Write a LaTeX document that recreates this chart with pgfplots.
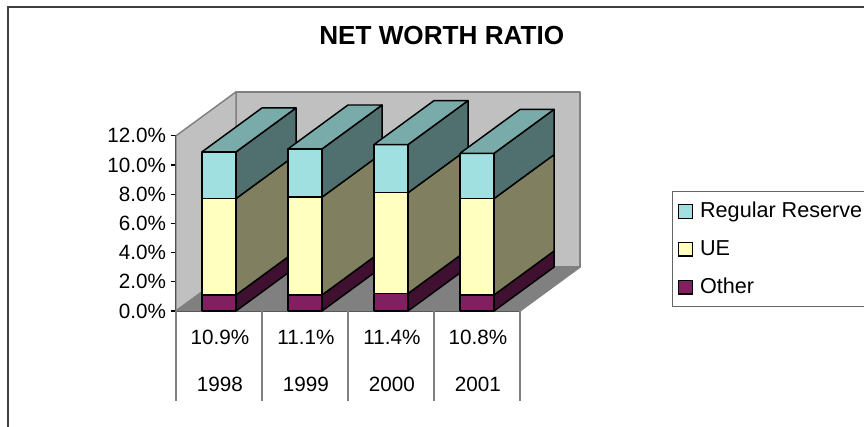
\documentclass[border=0pt]{standalone}
\usepackage{fontspec}
\setmainfont{Liberation Sans}
\usepackage{pgfplots}
\pgfplotsset{compat=1.18}

\definecolor{regfront}{HTML}{A0E0E0}
\definecolor{regside}{HTML}{507070}
\definecolor{regtop}{HTML}{7AABAB}
\definecolor{uefront}{HTML}{FFFFC0}
\definecolor{ueside}{HTML}{808060}
\definecolor{otherfront}{HTML}{802060}
\definecolor{otherside}{HTML}{401030}
\definecolor{wallgray}{HTML}{C0C0C0}
\definecolor{floorgray}{HTML}{808080}

% depth of the fake 3d box, in axis units
\def\dx{0.698}
\def\dy{3.01}

% one stacked piece: x index, bottom, top, front colour, side colour
\newcommand\piece[5]{%
  \pgfmathsetmacro\xl{#1+0.302}%
  \pgfmathsetmacro\xr{#1+0.698}%
  \pgfmathsetmacro\xb{\xr+\dx}%
  \pgfmathsetmacro\ya{#2+\dy}%
  \pgfmathsetmacro\yb{#3+\dy}%
  \addplot[barface, fill=#5] coordinates {(\xr,#2) (\xb,\ya) (\xb,\yb) (\xr,#3) (\xr,#2)};
  \addplot[barface, fill=#4] coordinates {(\xl,#2) (\xr,#2) (\xr,#3) (\xl,#3) (\xl,#2)};
}
% whole bar: x index, other, ue, regular reserve
\newcommand\stackbar[4]{%
  \pgfmathsetmacro\ytwo{#2+#3}%
  \pgfmathsetmacro\ythree{#2+#3+#4}%
  \edef\yue{\ytwo}\edef\ytop{\ythree}%
  \piece{#1}{0}{#2}{otherfront}{otherside}
  \piece{#1}{#2}{\yue}{uefront}{ueside}
  \piece{#1}{\yue}{\ytop}{regfront}{regside}
  \pgfmathsetmacro\xl{#1+0.302}%
  \pgfmathsetmacro\xr{#1+0.698}%
  \pgfmathsetmacro\xc{\xl+\dx}%
  \pgfmathsetmacro\xb{\xr+\dx}%
  \pgfmathsetmacro\yt{\ytop+\dy}%
  \addplot[barface, fill=regtop] coordinates {(\xl,\ytop) (\xc,\yt) (\xb,\yt) (\xr,\ytop) (\xl,\ytop)};
}

\begin{document}
\begin{tikzpicture}
\path[use as bounding box] (0,0) rectangle (648pt,319.5pt);
% outer frame, runs off the page at right and bottom
\draw[color=black!75, line width=1.5pt] (6pt,-5pt) -- (6pt,314.5pt) -- (655pt,314.5pt);
\begin{axis}[
    at={(132pt,86.25pt)},
    anchor=south west,
    x=64.5pt, y=10.95pt,
    xmin=0, xmax=4,
    ymin=0, ymax=12,
    clip=false,
    axis lines=left,
    axis line style={-, black, line width=1.1pt},
    xtick=\empty,
    ytick={0,2,4,6,8,10,12},
    tick align=outside,
    major tick length=4pt,
    tick style={black, line width=1pt},
    yticklabel={\pgfmathprintnumber[fixed,fixed zerofill,precision=1,assume math mode=true]{\tick}\%},
    tick label style={font=\fontsize{15.5}{18}\selectfont},
    no markers,
    barface/.style={draw=black, line width=1.1pt, line join=round, forget plot},
    wall/.style={draw=floorgray, line width=1.1pt, line join=round, forget plot},
    legend style={
        at={(axis cs:5.767,8.22)}, anchor=north west,
        draw=black!60, line width=0.8pt,
        font=\fontsize{16.2}{18}\selectfont,
        row sep=11.5pt, inner xsep=4pt, inner ysep=6pt,
        cells={anchor=west},
    },
    legend image code/.code={
        \path[draw=none, fill=none] (0cm,0cm) -- (0.5cm,0cm);
        \draw[#1, line width=1pt] (0cm,-0.19cm) rectangle (0.37cm,0.17cm);
    },
]
% walls and floor
\addplot[wall, fill=wallgray] coordinates {(0.698,3.01) (4.698,3.01) (4.698,15.01) (0.698,15.01) (0.698,3.01)};
\addplot[wall, fill=wallgray] coordinates {(0,0) (0.698,3.01) (0.698,15.01) (0,12) (0,0)};
\addplot[wall, fill=floorgray] coordinates {(0,0) (0.698,3.01) (4.698,3.01) (4,0) (0,0)};

% other, ue, regular reserve
\stackbar{0}{1.1}{6.6}{3.2}
\stackbar{1}{1.1}{6.7}{3.3}
\stackbar{2}{1.2}{6.9}{3.3}
\stackbar{3}{1.1}{6.6}{3.1}

% data table under the axis
\addplot[wall] coordinates {(0,0) (0,-6.16)};
\addplot[wall] coordinates {(1,0) (1,-6.16)};
\addplot[wall] coordinates {(2,0) (2,-6.16)};
\addplot[wall] coordinates {(3,0) (3,-6.16)};
\addplot[wall] coordinates {(4,0) (4,-6.16)};
\node[font=\fontsize{15.5}{18}\selectfont] at (axis cs:0.51,-1.8) {10.9\%};
\node[font=\fontsize{15.5}{18}\selectfont] at (axis cs:1.51,-1.8) {11.1\%};
\node[font=\fontsize{15.5}{18}\selectfont] at (axis cs:2.51,-1.8) {11.4\%};
\node[font=\fontsize{15.5}{18}\selectfont] at (axis cs:3.51,-1.8) {10.8\%};
\node[font=\fontsize{15.5}{18}\selectfont] at (axis cs:0.51,-5) {1998};
\node[font=\fontsize{15.5}{18}\selectfont] at (axis cs:1.51,-5) {1999};
\node[font=\fontsize{15.5}{18}\selectfont] at (axis cs:2.51,-5) {2000};
\node[font=\fontsize{15.5}{18}\selectfont] at (axis cs:3.51,-5) {2001};

\node[font=\fontsize{19.6}{22}\selectfont\bfseries] at (axis cs:3.09,18.84) {NET WORTH RATIO};

\addlegendimage{fill=regfront, draw=black}
\addlegendimage{fill=uefront, draw=black}
\addlegendimage{fill=otherfront, draw=black}
\legend{Regular Reserve, UE, Other}
\end{axis}
\end{tikzpicture}
\end{document}
